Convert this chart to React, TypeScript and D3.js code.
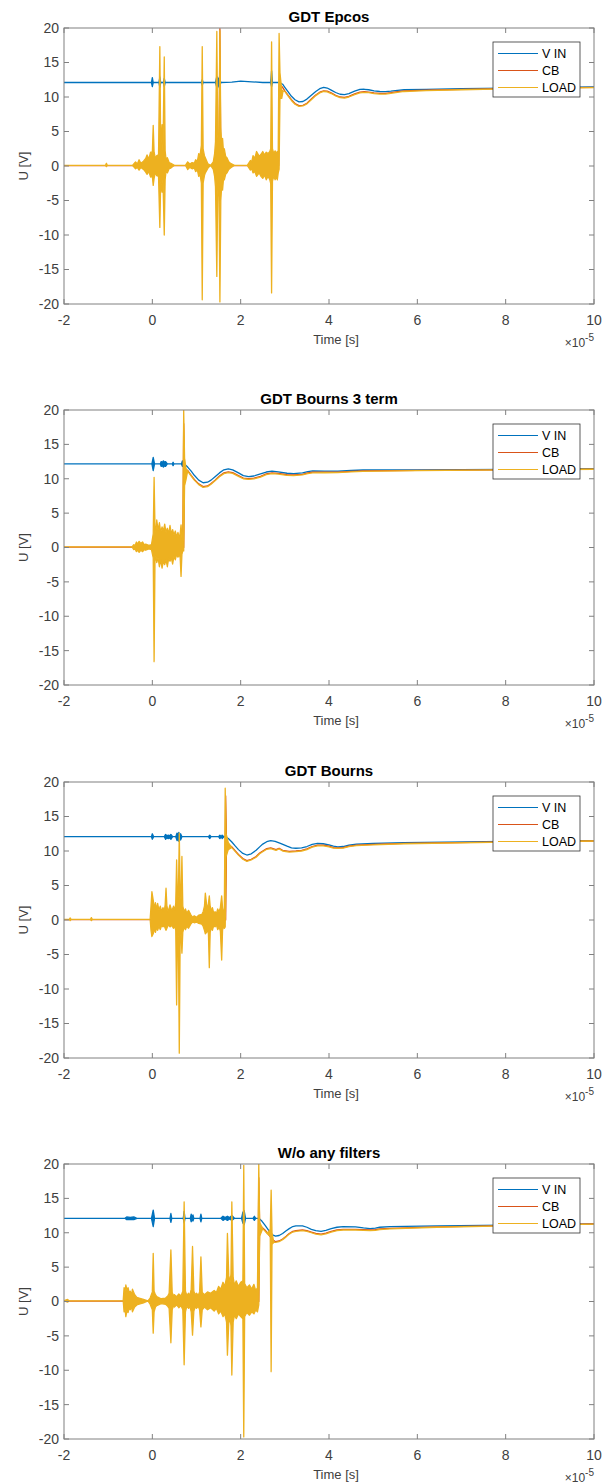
import React from 'react';
import * as d3 from 'd3';

type P = [number, number] | [number, number, number];

// ---------- text / axes data ----------
const titles = ['GDT Epcos', 'GDT Bourns 3 term', 'GDT Bourns', 'W/o any filters'];
const seriesNames = ['V IN', 'CB', 'LOAD'];
const seriesColors = ['#0072BD', '#D95319', '#EDB120'];
const xTicks = [-2, 0, 2, 4, 6, 8, 10];
const yTicks = [-20, -15, -10, -5, 0, 5, 10, 15, 20];
const xLabel = 'Time [s]';
const yLabel = 'U [V]';

// ---------- GDT Epcos ----------  [t (×1e-5 s), v] or [t, vMin, vMax]
const epcosVin: P[] = [
  [-2, 12.1], [-0.02, 12.1], [0.0, 11.5, 12.8], [0.02, 12.1], [0.15, 12.1], [0.17, 11.4, 12.9], [0.19, 12.1],
  [0.25, 12.1], [0.27, 11.5, 12.7], [0.29, 12.1], [1.11, 12.1], [1.13, 11.7, 12.5], [1.15, 12.1],
  [1.43, 12.1], [1.46, 11.4, 13.0], [1.49, 11.8, 12.5], [1.52, 11.3, 12.9], [1.55, 12.1], [1.8, 12.15],
  [2.0, 12.3], [2.25, 12.2], [2.5, 12.1], [2.68, 12.1], [2.7, 11.5, 13.8], [2.72, 12.1], [2.88, 12.1],
  [2.95, 11.85], [3.0, 11.4], [3.08, 10.7], [3.15, 10.1], [3.23, 9.6], [3.32, 9.3], [3.41, 9.35], [3.5, 9.7],
  [3.6, 10.25], [3.7, 10.8], [3.79, 11.2], [3.88, 11.4], [3.96, 11.3], [4.05, 11.0], [4.15, 10.65],
  [4.25, 10.4], [4.35, 10.35], [4.45, 10.5], [4.58, 10.85], [4.7, 11.1], [4.8, 11.12], [4.9, 11.05],
  [5.02, 10.9], [5.15, 10.8], [5.28, 10.78], [5.4, 10.85], [5.55, 10.97], [5.7, 11.05], [6.2, 11.1],
  [7.0, 11.2], [8.0, 11.3], [9.0, 11.38], [10.0, 11.45],
];
const epcosCb: P[] = [
  [-2, 0.05], [1.51, 0.05], [1.53, -5, 19.9], [1.55, 0.05], [2.86, 0.05],
  [2.88, 11.8], [2.95, 11.4], [3.0, 10.9], [3.08, 10.2], [3.15, 9.6], [3.23, 9.05], [3.32, 8.75], [3.41, 8.8],
  [3.5, 9.1], [3.6, 9.7], [3.7, 10.3], [3.79, 10.7], [3.88, 10.9], [3.96, 10.85], [4.05, 10.6], [4.15, 10.25],
  [4.25, 10.0], [4.35, 9.95], [4.45, 10.1], [4.58, 10.45], [4.7, 10.7], [4.8, 10.78], [4.9, 10.72],
  [5.02, 10.6], [5.15, 10.52], [5.28, 10.52], [5.4, 10.62], [5.55, 10.78], [5.7, 10.9], [6.2, 11.0],
  [7.0, 11.1], [8.0, 11.22], [9.0, 11.32], [10.0, 11.4],
];
const epcosLoad: P[] = [
  [-2, 0.1], [-1.06, 0.1], [-1.04, -0.1, 0.4], [-1.02, 0.1], [-0.45, 0.1], [-0.38, -0.4, 0.6], [-0.34, -0.2, 0.3],
  [-0.3, -0.6, 0.9], [-0.26, -0.2, 0.4], [-0.2, -0.5, 0.7], [-0.15, -0.9, 1.1], [-0.12, -1.2, 1.6],
  [-0.08, -0.8, 1.0], [-0.04, -1.6, 2.0], [0.0, -1.5, 2.0], [0.02, -2.8, 5.9], [0.04, -1.8, 2.0],
  [0.07, -0.9, 1.1], [0.1, -1.4, 1.5], [0.14, -1.5, 1.6], [0.17, -8.9, 17.3], [0.19, -2.2, 2.5],
  [0.22, -3.8, 6.0], [0.24, -2.0, 2.2], [0.27, -10.0, 15.8], [0.29, -2.0, 2.2], [0.31, -0.8, 1.0],
  [0.34, -1.0, 1.2], [0.38, -0.4, 0.5], [0.42, -0.3, 0.4], [0.5, 0.1], [0.75, 0.1], [0.8, -0.5, 0.6],
  [0.85, -0.2, 0.3], [0.9, -0.4, 0.5], [0.95, -0.3, 0.4], [0.98, -0.8, 0.9], [1.02, -0.6, 0.7],
  [1.05, -1.5, 1.8], [1.08, -1.2, 1.5], [1.11, -2.5, 3.0], [1.13, -19.4, 17.3], [1.15, -2.5, 2.5],
  [1.18, -1.4, 1.5], [1.2, -1.0, 1.2], [1.26, -0.3, 0.3], [1.32, 0.1], [1.38, -0.5, 0.6], [1.41, -1.5, 1.8],
  [1.43, -3.0, 3.5], [1.46, -16.0, 19.5], [1.48, -4.0, 4.5], [1.5, -2.5, 3.0], [1.51, -4.5, 5.0],
  [1.53, -19.7, 19.6], [1.55, -5.0, 5.5], [1.57, -3.0, 3.2], [1.59, -3.5, 4.0], [1.61, -2.0, 2.2],
  [1.63, -2.0, 2.5], [1.66, -1.2, 1.4], [1.69, -1.0, 1.2], [1.73, -0.5, 0.6], [1.77, -0.3, 0.4], [1.86, 0.1],
  [2.15, 0.1], [2.22, -0.6, 0.8], [2.25, -0.4, 0.6], [2.28, -1.0, 1.5], [2.32, -0.8, 1.1], [2.36, -1.5, 2.1],
  [2.42, -1.0, 1.4], [2.46, -1.5, 1.7], [2.5, -1.8, 2.1], [2.54, -1.3, 1.6], [2.58, -2.0, 2.0], [2.62, -1.5, 1.8],
  [2.66, -2.0, 2.1], [2.68, -2.5, 2.5], [2.7, -18.4, 18.0], [2.72, -2.2, 2.5], [2.75, -1.5, 1.8],
  [2.78, -2.0, 2.2], [2.81, -1.6, 1.8], [2.83, -2.0, 2.1], [2.85, -1.0, 2.0], [2.87, -0.5, 19.2],
  [2.89, 9.8, 13.5], [2.93, 9.8, 11.0], [2.96, 10.9], [3.0, 10.8], [3.08, 10.1], [3.15, 9.5], [3.23, 8.95],
  [3.32, 8.65], [3.41, 8.7], [3.5, 9.0], [3.6, 9.6], [3.7, 10.2], [3.79, 10.6], [3.88, 10.8], [3.96, 10.75],
  [4.05, 10.5], [4.15, 10.15], [4.25, 9.9], [4.35, 9.85], [4.45, 10.0], [4.58, 10.35], [4.7, 10.6],
  [4.8, 10.68], [4.9, 10.62], [5.02, 10.5], [5.15, 10.42], [5.28, 10.42], [5.4, 10.52], [5.55, 10.68],
  [5.7, 10.8], [6.2, 10.92], [7.0, 11.05], [8.0, 11.18], [9.0, 11.28], [10.0, 11.36],
];

// ---------- GDT Bourns 3 term ----------
const b3Vin: P[] = [
  [-2, 12.15], [-0.01, 12.15], [0.02, 11.2, 13.1], [0.05, 12.15], [0.18, 12.15], [0.2, 11.8, 12.5],
  [0.23, 11.9, 12.4], [0.25, 11.7, 12.6], [0.28, 11.9, 12.4], [0.3, 11.8, 12.5], [0.34, 12.15], [0.45, 12.15],
  [0.47, 11.9, 12.4], [0.49, 12.15], [0.66, 12.15], [0.68, 11.8, 12.6], [0.71, 12.15], [0.75, 12.0],
  [0.8, 11.7], [0.88, 11.1], [0.95, 10.5], [1.05, 9.8], [1.15, 9.42], [1.25, 9.5], [1.33, 9.8], [1.42, 10.3],
  [1.52, 10.85], [1.62, 11.3], [1.72, 11.45], [1.82, 11.3], [1.95, 10.85], [2.06, 10.45], [2.18, 10.3],
  [2.3, 10.4], [2.45, 10.7], [2.58, 10.98], [2.71, 11.1], [2.85, 11.0], [3.05, 10.8], [3.2, 10.75],
  [3.4, 10.85], [3.52, 11.05], [3.63, 11.15], [3.9, 11.12], [4.2, 11.1], [4.5, 11.2], [4.77, 11.27],
  [6.0, 11.3], [8.0, 11.37], [10, 11.46],
];
const b3Cb: P[] = [
  [-2, 0.05], [0.69, 0.05], [0.71, 0, 18], [0.73, 11.5], [0.8, 11.2], [0.88, 10.5], [0.95, 9.9],
  [1.05, 9.25], [1.15, 8.85], [1.25, 8.95], [1.33, 9.3], [1.42, 9.8], [1.52, 10.4], [1.62, 10.85], [1.72, 11.0],
  [1.82, 10.88], [1.95, 10.45], [2.06, 10.1], [2.18, 10.0], [2.3, 10.08], [2.45, 10.35], [2.58, 10.7],
  [2.71, 10.85], [2.85, 10.78], [3.05, 10.58], [3.2, 10.55], [3.4, 10.65], [3.52, 10.85], [3.63, 10.95],
  [3.9, 10.95], [4.2, 10.95], [4.5, 11.08], [4.77, 11.15], [6.0, 11.22], [8.0, 11.3], [10, 11.4],
];
const b3Load: P[] = [
  [-2, 0.1], [-0.46, 0.1], [-0.42, -0.3, 0.4], [-0.39, -0.2, 0.3], [-0.36, -0.6, 0.8], [-0.33, -0.4, 0.5],
  [-0.3, -0.7, 0.9], [-0.26, -0.4, 0.6], [-0.22, -0.6, 0.8], [-0.18, -0.3, 0.4], [-0.15, -0.4, 0.5],
  [-0.08, -0.2, 0.3], [-0.02, -0.3, 0.4], [0.02, -1.5, 2.0], [0.04, -16.6, 10.2], [0.06, -2.0, 3.0],
  [0.08, -1.2, 2.2], [0.1, -2.2, 4.0], [0.13, -1.5, 2.5], [0.16, -2.8, 3.6], [0.19, -1.8, 2.2],
  [0.22, -3.0, 3.0], [0.25, -2.0, 2.4], [0.28, -2.5, 3.4], [0.31, -1.8, 2.2], [0.34, -2.8, 2.8],
  [0.37, -1.6, 2.0], [0.4, -2.0, 3.2], [0.43, -1.5, 2.0], [0.46, -2.4, 2.6], [0.49, -1.3, 1.8],
  [0.52, -1.8, 2.4], [0.55, -1.0, 1.5], [0.58, -1.4, 2.2], [0.61, -1.0, 1.4], [0.63, -1.5, 2.0],
  [0.65, -4.2, 3.3], [0.67, -1.0, 1.5], [0.69, -0.5, 1.0], [0.71, -0.5, 20], [0.73, 9.0, 13.0],
  [0.76, 9.8, 11.5], [0.8, 11.1], [0.88, 10.4], [0.95, 9.8], [1.05, 9.15], [1.15, 8.75], [1.25, 8.85],
  [1.33, 9.2], [1.42, 9.7], [1.52, 10.3], [1.62, 10.75], [1.72, 10.9], [1.82, 10.78], [1.95, 10.35],
  [2.06, 10.0], [2.18, 9.9], [2.3, 9.98], [2.45, 10.25], [2.58, 10.6], [2.71, 10.75], [2.85, 10.68],
  [3.05, 10.48], [3.2, 10.45], [3.4, 10.55], [3.52, 10.75], [3.63, 10.85], [3.9, 10.87], [4.2, 10.88],
  [4.5, 11.0], [4.77, 11.08], [6.0, 11.18], [8.0, 11.28], [10, 11.38],
];

// ---------- GDT Bourns ----------
const bVin: P[] = [
  [-2, 12.07], [-0.02, 12.07], [0.0, 11.7, 12.5], [0.03, 12.07], [0.27, 12.07], [0.3, 11.7, 12.4],
  [0.33, 11.9, 12.2], [0.36, 11.8, 12.3], [0.39, 11.9, 12.2], [0.42, 11.7, 12.4], [0.46, 12.07], [0.53, 12.07],
  [0.56, 11.5, 12.6], [0.58, 11.8, 12.3], [0.6, 11.4, 12.7], [0.62, 11.8, 12.3], [0.64, 11.6, 12.5],
  [0.67, 12.07], [1.27, 12.07], [1.3, 11.8, 12.3], [1.33, 12.07], [1.5, 12.07], [1.53, 11.8, 12.3],
  [1.56, 12.07], [1.58, 11.8, 12.3], [1.62, 12.07], [1.66, 12.07], [1.72, 11.8], [1.8, 11.3], [1.88, 10.7],
  [1.95, 10.2], [2.05, 9.65], [2.14, 9.42], [2.24, 9.6], [2.35, 10.1], [2.43, 10.6], [2.5, 11.0], [2.59, 11.35],
  [2.68, 11.5], [2.78, 11.4], [2.9, 11.1], [3.05, 10.7], [3.15, 10.45], [3.25, 10.4], [3.38, 10.45],
  [3.5, 10.65], [3.62, 10.95], [3.74, 11.1], [3.87, 11.05], [4.0, 10.9], [4.1, 10.7], [4.2, 10.6],
  [4.32, 10.65], [4.45, 10.85], [4.62, 11.0], [5.0, 11.1], [5.69, 11.2], [8.0, 11.4], [10, 11.5],
];
const bCb: P[] = [
  [-2, 0.05], [1.64, 0.05], [1.66, 0, 18], [1.68, 11.0], [1.72, 10.9], [1.8, 10.6], [1.88, 10.0], [1.95, 9.5],
  [2.05, 8.9], [2.14, 8.6], [2.24, 8.8], [2.35, 9.2], [2.43, 9.7], [2.5, 10.0], [2.59, 10.35], [2.68, 10.45],
  [2.75, 10.3], [2.8, 10.2], [2.87, 10.4], [2.95, 10.1], [3.1, 9.95], [3.25, 10.0], [3.38, 10.1], [3.5, 10.3],
  [3.62, 10.65], [3.74, 10.85], [3.87, 10.85], [4.0, 10.7], [4.1, 10.5], [4.2, 10.45], [4.32, 10.5],
  [4.45, 10.7], [4.62, 10.85], [5.0, 10.95], [5.69, 11.1], [8.0, 11.32], [10, 11.45],
];
const bLoad: P[] = [
  [-2, 0.1], [-1.88, 0.1], [-1.86, -0.1, 0.3], [-1.84, 0.1], [-1.4, 0.1], [-1.38, -0.1, 0.35], [-1.36, 0.1],
  [-0.05, 0.1], [-0.03, -1.5, 2.0], [-0.01, -2.4, 4.1], [0.02, -2.0, 2.9], [0.05, -1.2, 1.6], [0.07, -1.8, 2.5],
  [0.1, -1.0, 1.5], [0.12, -1.5, 2.4], [0.15, -0.9, 1.4], [0.18, -1.4, 2.0], [0.21, -0.8, 1.2],
  [0.24, -1.0, 1.8], [0.27, -0.8, 1.3], [0.29, -1.2, 2.2], [0.31, -1.5, 4.6], [0.33, -1.2, 2.0],
  [0.36, -0.7, 1.2], [0.4, -1.0, 2.2], [0.44, -0.8, 1.3], [0.48, -1.2, 2.0], [0.51, -0.9, 1.4],
  [0.53, -1.5, 2.5], [0.55, -12.3, 8.7], [0.57, -2.0, 3.0], [0.59, -2.5, 3.5], [0.61, -19.3, 12.6],
  [0.63, -3.0, 4.0], [0.65, -2.0, 3.0], [0.67, -4.8, 9.2], [0.69, -1.8, 2.0], [0.72, -1.0, 1.2],
  [0.75, -1.4, 1.6], [0.78, -0.9, 1.0], [0.82, -1.2, 1.4], [0.87, -0.6, 0.8], [0.91, -0.3, 0.4],
  [0.95, -0.4, 0.6], [1.0, -0.3, 0.4], [1.05, -0.5, 0.7], [1.12, -0.6, 0.8], [1.15, -0.9, 1.2],
  [1.18, -1.5, 2.0], [1.2, -2.0, 3.9], [1.23, -1.8, 2.2], [1.25, -1.2, 1.5], [1.27, -2.0, 2.4],
  [1.29, -6.9, 3.5], [1.31, -1.8, 2.0], [1.34, -1.0, 1.2], [1.36, -1.5, 1.8], [1.39, -0.8, 1.0],
  [1.42, -1.0, 1.2], [1.45, -0.7, 0.9], [1.48, -1.4, 1.6], [1.51, -1.0, 1.2], [1.54, -1.6, 1.8],
  [1.57, -5.8, 3.5], [1.59, -1.5, 1.8], [1.61, -0.9, 1.1], [1.63, -1.2, 1.5], [1.65, -1.0, 19.1],
  [1.67, 9.2, 12.5], [1.72, 10.2, 11.2], [1.8, 10.5], [1.88, 9.9], [1.95, 9.4], [2.05, 8.8], [2.14, 8.5],
  [2.24, 8.7], [2.35, 9.1], [2.43, 9.6], [2.5, 9.9], [2.59, 10.25], [2.68, 10.35], [2.75, 10.2], [2.8, 10.1],
  [2.87, 10.3], [2.95, 10.0], [3.1, 9.85], [3.25, 9.9], [3.38, 10.0], [3.5, 10.2], [3.62, 10.55],
  [3.74, 10.75], [3.87, 10.75], [4.0, 10.6], [4.1, 10.42], [4.2, 10.38], [4.32, 10.42], [4.45, 10.62],
  [4.62, 10.78], [5.0, 10.88], [5.69, 11.05], [8.0, 11.3], [10, 11.45],
];

// ---------- W/o any filters ----------
const nfVin: P[] = [
  [-2, 12.1], [-0.62, 12.1], [-0.58, 11.9, 12.3], [-0.5, 11.95, 12.25], [-0.42, 11.9, 12.3], [-0.35, 12.1],
  [-0.02, 12.1], [0.02, 10.9, 13.3], [0.05, 12.1], [0.4, 12.1], [0.42, 11.5, 12.8], [0.44, 12.1], [0.7, 12.1],
  [0.72, 11.4, 13.1], [0.74, 12.1], [0.86, 12.1], [0.88, 11.6, 12.7], [0.9, 12.0, 12.2], [0.92, 11.7, 12.6],
  [0.94, 12.1], [1.08, 12.1], [1.1, 11.6, 12.7], [1.12, 12.1], [1.55, 12.1], [1.6, 11.8, 12.4],
  [1.65, 12.0, 12.2], [1.7, 11.8, 12.4], [1.75, 12.0, 12.2], [1.8, 11.8, 12.5], [1.86, 12.1], [2.02, 12.1],
  [2.05, 11.4, 13.0], [2.08, 11.2, 13.2], [2.11, 12.1], [2.28, 12.1], [2.31, 11.8, 12.4], [2.34, 12.1],
  [2.41, 12.1], [2.48, 11.7], [2.55, 11.1], [2.65, 10.2], [2.72, 9.7], [2.79, 9.5], [2.87, 9.6], [2.95, 9.9],
  [3.03, 10.3], [3.1, 10.6], [3.18, 10.9], [3.25, 11.0], [3.4, 11.0], [3.5, 10.8], [3.6, 10.5], [3.7, 10.3],
  [3.82, 10.2], [3.93, 10.35], [4.05, 10.6], [4.18, 10.8], [4.32, 10.9], [4.6, 10.85], [4.78, 10.7],
  [4.93, 10.6], [5.05, 10.68], [5.15, 10.8], [5.38, 10.9], [6.45, 11.0], [8.0, 11.1], [10, 11.3],
];
const nfCb: P[] = [
  [-2, 0.05], [2.39, 0.05], [2.41, 0, 18], [2.43, 11.0], [2.48, 10.8], [2.55, 10.4], [2.65, 9.6], [2.72, 9.0],
  [2.79, 8.7], [2.87, 8.8], [2.95, 9.1], [3.03, 9.5], [3.1, 9.9], [3.18, 10.2], [3.25, 10.3], [3.4, 10.4],
  [3.5, 10.3], [3.6, 10.1], [3.7, 9.9], [3.82, 9.8], [3.93, 9.95], [4.05, 10.2], [4.18, 10.4], [4.32, 10.5],
  [4.6, 10.5], [4.78, 10.45], [4.93, 10.4], [5.05, 10.45], [5.15, 10.55], [5.38, 10.65], [6.45, 10.85],
  [8.0, 11.05], [10, 11.28],
];
const nfLoad: P[] = [
  [-2, 0.1], [-1.92, -0.1, 0.3], [-1.88, 0.1], [-0.66, 0.1], [-0.64, -1.5, 2.0], [-0.62, -1.0, 1.4],
  [-0.6, -2.2, 2.4], [-0.57, -1.2, 1.5], [-0.55, -1.6, 2.0], [-0.52, -0.9, 1.2], [-0.5, -1.2, 1.5],
  [-0.47, -0.8, 1.0], [-0.45, -1.5, 1.8], [-0.4, -0.8, 1.0], [-0.35, -0.5, 0.6], [-0.3, -0.4, 0.5],
  [-0.2, -0.2, 0.3], [-0.1, 0.1], [-0.05, -0.4, 0.5], [0.0, -1.2, 1.4], [0.02, -4.6, 7.0], [0.04, -1.5, 1.5],
  [0.07, -0.8, 1.0], [0.1, -0.6, 0.7], [0.2, -0.3, 0.4], [0.3, -0.4, 0.5], [0.35, -0.7, 0.8],
  [0.38, -1.0, 1.2], [0.42, -6.0, 7.5], [0.45, -1.2, 1.3], [0.48, -0.6, 0.8], [0.5, -0.8, 1.0],
  [0.55, -0.5, 0.7], [0.6, -0.9, 1.1], [0.65, -0.6, 0.8], [0.69, -1.2, 1.5], [0.72, -9.2, 14.5],
  [0.75, -1.5, 1.5], [0.78, -0.7, 0.9], [0.82, -1.0, 1.2], [0.85, -0.7, 0.9], [0.88, -1.5, 1.8],
  [0.91, -4.9, 8.0], [0.94, -1.4, 1.5], [0.97, -0.8, 1.0], [1.0, -1.0, 1.2], [1.04, -0.7, 0.9],
  [1.07, -1.2, 1.4], [1.1, -3.7, 6.5], [1.13, -1.2, 1.3], [1.18, -0.8, 1.0], [1.25, -1.2, 1.4],
  [1.32, -0.9, 1.2], [1.4, -1.4, 1.6], [1.45, -1.0, 1.3], [1.5, -1.8, 2.2], [1.55, -1.4, 1.8],
  [1.6, -2.2, 2.8], [1.64, -1.8, 2.2], [1.68, -3.0, 3.5], [1.7, -7.8, 9.9], [1.73, -3.2, 3.8],
  [1.76, -2.4, 2.8], [1.78, -3.5, 4.0], [1.8, -10.7, 14.5], [1.83, -3.0, 3.5], [1.86, -2.0, 2.4],
  [1.9, -2.5, 3.0], [1.95, -1.8, 2.2], [2.0, -2.2, 2.8], [2.05, -2.5, 3.0], [2.07, -19.7, 19.8],
  [2.09, -2.2, 2.6], [2.14, -1.6, 2.0], [2.2, -2.0, 2.4], [2.25, -1.5, 1.8], [2.3, -1.8, 2.5],
  [2.34, -1.2, 1.6], [2.38, -1.5, 2.0], [2.41, -0.5, 20], [2.43, 9.5, 11.5], [2.5, 10.6], [2.6, 9.9],
  [2.67, 9.5, 10.5], [2.69, -10.2, 16.2], [2.71, 8.3, 10.0], [2.75, 8.6], [2.79, 8.6], [2.87, 8.7],
  [2.95, 9.0], [3.03, 9.4], [3.1, 9.8], [3.18, 10.1], [3.25, 10.2], [3.4, 10.3], [3.5, 10.2], [3.6, 10.0],
  [3.7, 9.8], [3.82, 9.7], [3.93, 9.85], [4.05, 10.1], [4.18, 10.3], [4.32, 10.4], [4.6, 10.4], [4.78, 10.35],
  [4.93, 10.3], [5.05, 10.35], [5.15, 10.45], [5.38, 10.55], [6.45, 10.8], [8.0, 11.0], [10, 11.25],
];

const panelSeries: P[][][] = [
  [epcosVin, epcosCb, epcosLoad],
  [b3Vin, b3Cb, b3Load],
  [bVin, bCb, bLoad],
  [nfVin, nfCb, nfLoad],
];

// ---------- layout ----------
const W = 609;
const H = 1484;
const LEFT = 64;
const RIGHT = 594;
const TOPS = [28, 410, 782, 1164];
const BOTTOMS = [304, 685, 1058, 1439];
const FONT = "'Liberation Sans', Arial, Helvetica, sans-serif";
const AXIS_COLOR = '#808080';
const TEXT_COLOR = '#404040';

function Panel({ idx }: { idx: number }) {
  const top = TOPS[idx];
  const bottom = BOTTOMS[idx];
  const x = d3.scaleLinear().domain([-2, 10]).range([LEFT, RIGHT]);
  const y = d3.scaleLinear().domain([-20, 20]).range([bottom, top]);
  const area = d3
    .area<P>()
    .x((d) => x(d[0]))
    .y0((d) => y(d[1]))
    .y1((d) => y(d.length > 2 ? (d as number[])[2] : d[1]))
    .curve(d3.curveLinear);
  const clipId = `clip-${idx}`;
  const cx = (LEFT + RIGHT) / 2;
  const legX = RIGHT - 101;
  const legY = top + 14;
  const tickLen = 5;
  return (
    <g>
      <defs>
        <clipPath id={clipId}>
          <rect x={LEFT} y={top} width={RIGHT - LEFT} height={bottom - top} />
        </clipPath>
      </defs>
      <g clipPath={`url(#${clipId})`}>
        {panelSeries[idx].map((s, k) => (
          <path
            key={k}
            d={area(s) || ''}
            fill={seriesColors[k]}
            stroke={seriesColors[k]}
            strokeWidth={1.3}
            strokeLinejoin="round"
          />
        ))}
      </g>
      <rect x={LEFT} y={top} width={RIGHT - LEFT} height={bottom - top} fill="none" stroke={AXIS_COLOR} strokeWidth={1} />
      {xTicks.map((t) => (
        <g key={`xt${t}`}>
          <line x1={x(t)} x2={x(t)} y1={bottom} y2={bottom - tickLen} stroke={AXIS_COLOR} />
          <line x1={x(t)} x2={x(t)} y1={top} y2={top + tickLen} stroke={AXIS_COLOR} />
          <text x={x(t)} y={bottom + 21} textAnchor="middle" fontSize={14} fill={TEXT_COLOR}>
            {t}
          </text>
        </g>
      ))}
      {yTicks.map((t) => (
        <g key={`yt${t}`}>
          <line x1={LEFT} x2={LEFT + tickLen} y1={y(t)} y2={y(t)} stroke={AXIS_COLOR} />
          <line x1={RIGHT} x2={RIGHT - tickLen} y1={y(t)} y2={y(t)} stroke={AXIS_COLOR} />
          <text x={59} y={y(t)} dy="0.35em" textAnchor="end" fontSize={14} fill={TEXT_COLOR}>
            {t}
          </text>
        </g>
      ))}
      <text x={cx} y={top - 6} textAnchor="middle" fontSize={15} fontWeight="bold" fill="#000">
        {titles[idx]}
      </text>
      <text x={336} y={bottom + 40} textAnchor="middle" fontSize={13} fill={TEXT_COLOR}>
        {xLabel}
      </text>
      <text x={RIGHT} y={bottom + 43} textAnchor="end" fontSize={12} fill={TEXT_COLOR}>
        ×10<tspan dy={-6} fontSize={10}>-5</tspan>
      </text>
      <text
        transform={`translate(${23},${(top + bottom) / 2}) rotate(-90)`}
        textAnchor="middle"
        dy="0.35em"
        fontSize={13}
        fill={TEXT_COLOR}
      >
        {yLabel}
      </text>
      <g>
        <rect x={legX} y={legY} width={87} height={55} fill="#fff" stroke="#333" strokeWidth={0.8} />
        {seriesNames.map((n, k) => (
          <g key={n}>
            <line
              x1={legX + 5}
              x2={legX + 45}
              y1={legY + 11.5 + k * 17}
              y2={legY + 11.5 + k * 17}
              stroke={seriesColors[k]}
              strokeWidth={1}
            />
            <text x={legX + 49} y={legY + 11.5 + k * 17} dy="0.35em" fontSize={12.5} fill="#000">
              {n}
            </text>
          </g>
        ))}
      </g>
    </g>
  );
}

export default function App() {
  return (
    <svg
      width={W}
      height={H}
      style={{ position: 'absolute', left: 0, top: 0, background: '#fff' }}
      fontFamily={FONT}
    >
      <rect x={0} y={0} width={W} height={H} fill="#fff" />
      {titles.map((_, i) => (
        <Panel key={i} idx={i} />
      ))}
    </svg>
  );
}
